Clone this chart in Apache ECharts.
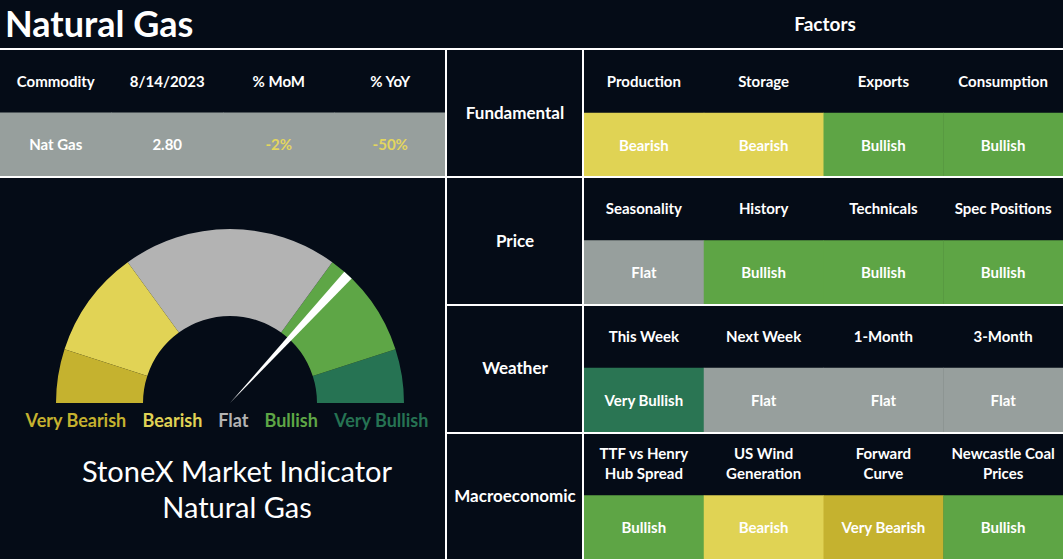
<!DOCTYPE html>
<html><head><meta charset="utf-8">
<script src="https://cdn.jsdelivr.net/npm/echarts@6/dist/echarts.min.js"></script>
<style>html,body{margin:0;padding:0;background:#050c17;}#c{width:1063px;height:559px;}</style>
</head><body><div id="c"></div>
<script>
// ---------- data ----------
const pageTitle = 'Natural Gas';
const panelTitle = 'Factors';
const tableHeaders = ['Commodity', '8/14/2023', '% MoM', '% YoY'];
const tableValues = ['Nat Gas', '2.80', '-2%', '-50%'];
const tableValueSigns = ['', '', 'Bearish', 'Bearish'];
const gaugeBands = ['Very Bearish', 'Bearish', 'Flat', 'Bullish', 'Very Bullish'];
const gaugeBandEnds = [10, 30, 70, 90, 100];
const gaugeValue = 73.7;
const indicatorTitle = 'StoneX Market Indicator\nNatural Gas';
const groups = ['Fundamental', 'Price', 'Weather', 'Macroeconomic'];
const factors = [
  ['Production', 'Storage', 'Exports', 'Consumption'],
  ['Seasonality', 'History', 'Technicals', 'Spec Positions'],
  ['This Week', 'Next Week', '1-Month', '3-Month'],
  ['TTF vs Henry\nHub Spread', 'US Wind\nGeneration', 'Forward\nCurve', 'Newcastle Coal\nPrices']
];
const signals = [
  ['Bearish', 'Bearish', 'Bullish', 'Bullish'],
  ['Flat', 'Bullish', 'Bullish', 'Bullish'],
  ['Very Bullish', 'Flat', 'Flat', 'Flat'],
  ['Bullish', 'Bearish', 'Very Bearish', 'Bullish']
];

// ---------- styles ----------
const BG = '#050c17';
const FONT = 'Lato';
const bandColors = {'Very Bearish':'#c5b22f','Bearish':'#e1d355','Flat':'#b3b3b3','Bullish':'#5ea646','Very Bullish':'#267353'};
const cellColors = {'Very Bearish':'#c5b22f','Bearish':'#e0d354','Flat':'#979f9d','Bullish':'#5ea545','Very Bullish':'#2a7553'};
const textColors = {'':'#ffffff','Bearish':'#e3d65e'};

// ---------- build cell lists ----------
const tableCells = [];
tableHeaders.forEach((h, i) => tableCells.push({v:[i, 0], text:h, fill:null, color:'#fff'}));
tableValues.forEach((v, i) => tableCells.push({v:[i, 1], text:v, fill:'#979f9d', color:textColors[tableValueSigns[i]]}));

const factorCells = [];
groups.forEach((g, gi) => {
  factors[gi].forEach((f, ci) => {
    factorCells.push({v:[ci, gi*2], text:f, fill:null});
    factorCells.push({v:[ci, gi*2+1], text:signals[gi][ci], fill:cellColors[signals[gi][ci]]});
  });
});
const groupCells = groups.map((g, gi) => ({v:[0, gi], text:g}));

function cellRenderer(list, fontSize) {
  return function (params, api) {
    const cell = list[params.dataIndex];
    const p = api.coord([api.value(0), api.value(1)]);
    const s = api.size([1, 1]);
    const children = [];
    if (cell.fill) {
      children.push({type:'rect', shape:{x:p[0]-s[0]/2, y:p[1]-s[1]/2, width:s[0]+0.5, height:s[1]+0.5}, style:{fill:cell.fill}});
    }
    children.push({type:'text', style:{text:cell.text, x:p[0], y:p[1], align:'center', verticalAlign:'middle',
      fill:cell.color || '#ffffff', fontFamily:FONT, fontWeight:'bold', fontSize:fontSize, lineHeight:20}});
    return {type:'group', children};
  };
}

const hidden = {show:false};
const richBands = {sp:{width:16}};
gaugeBands.forEach((b, i) => { richBands['b'+i] = {fill:bandColors[b], color:bandColors[b], fontFamily:FONT, fontWeight:'bold', fontSize:18}; });
const bandText = gaugeBands.map((b, i) => '{b'+i+'|'+b+'}').join('{sp|}');

const lineColor = '#ffffff';
const option = {
  backgroundColor: BG,
  animation: false,
  grid: [
    {left:0, top:49, width:446, height:127},
    {left:584, top:49, width:479, height:510},
    {left:447, top:49, width:136, height:510}
  ],
  xAxis: [
    {type:'category', gridIndex:0, data:tableHeaders, show:false},
    {type:'category', gridIndex:1, data:[0,1,2,3], show:false},
    {type:'category', gridIndex:2, data:[0], show:false}
  ],
  yAxis: [
    {type:'category', gridIndex:0, data:['header','value'], inverse:true, show:false},
    {type:'category', gridIndex:1, data:[0,1,2,3,4,5,6,7], inverse:true, show:false},
    {type:'category', gridIndex:2, data:groups, inverse:true, show:false}
  ],
  series: [
    {type:'custom', xAxisIndex:0, yAxisIndex:0, data:tableCells.map(c=>c.v), renderItem:cellRenderer(tableCells, 15), silent:true},
    {type:'custom', xAxisIndex:1, yAxisIndex:1, data:factorCells.map(c=>c.v), renderItem:cellRenderer(factorCells, 15), silent:true},
    {type:'custom', xAxisIndex:2, yAxisIndex:2, data:groupCells.map(c=>c.v), renderItem:cellRenderer(groupCells, 17), silent:true},
    {
      type:'gauge', center:[230, 403], radius:174, startAngle:180, endAngle:0, min:0, max:100,
      axisLine:{lineStyle:{width:87, color:gaugeBandEnds.map((e, i) => [e/100, bandColors[gaugeBands[i]]])}},
      splitLine:hidden, axisTick:hidden, axisLabel:hidden, anchor:hidden, title:hidden, detail:hidden,
      pointer:{icon:'path://M0,0L10,0L5,100Z', length:'100%', width:10, offsetCenter:[0,0], itemStyle:{color:'#ffffff'}},
      data:[{value:gaugeValue}]
    }
  ],
  graphic: [
    {type:'text', x:5, y:23, z:10, style:{text:pageTitle, fill:'#fff', fontFamily:FONT, fontWeight:'bold', fontSize:36, verticalAlign:'middle'}},
    {type:'text', x:825, y:23, z:10, style:{text:panelTitle, fill:'#fff', fontFamily:FONT, fontWeight:'bold', fontSize:19, align:'center', verticalAlign:'middle'}},
    {type:'text', x:227, y:420, z:10, style:{text:bandText, rich:richBands, align:'center', verticalAlign:'middle'}},
    {type:'text', x:237, y:488, z:10, style:{text:indicatorTitle, fill:'#fff', fontFamily:FONT, fontWeight:'normal', fontSize:29, lineHeight:36, align:'center', verticalAlign:'middle'}},
    // frame lines
    {type:'rect', z:20, shape:{x:0, y:48, width:1063, height:2}, style:{fill:lineColor}},
    {type:'rect', z:20, shape:{x:0, y:176, width:446, height:2}, style:{fill:lineColor}},
    {type:'rect', z:20, shape:{x:445, y:48, width:2, height:511}, style:{fill:lineColor}},
    {type:'rect', z:20, shape:{x:582, y:48, width:2, height:511}, style:{fill:lineColor}},
    {type:'rect', z:20, shape:{x:445, y:176, width:618, height:2}, style:{fill:lineColor}},
    {type:'rect', z:20, shape:{x:445, y:304, width:618, height:2}, style:{fill:lineColor}},
    {type:'rect', z:20, shape:{x:445, y:432, width:618, height:2}, style:{fill:lineColor}}
  ]
};
const chart = echarts.init(document.getElementById('c'), null, {renderer:'svg', width:1063, height:559});
chart.setOption(option);
</script>
</body></html>
